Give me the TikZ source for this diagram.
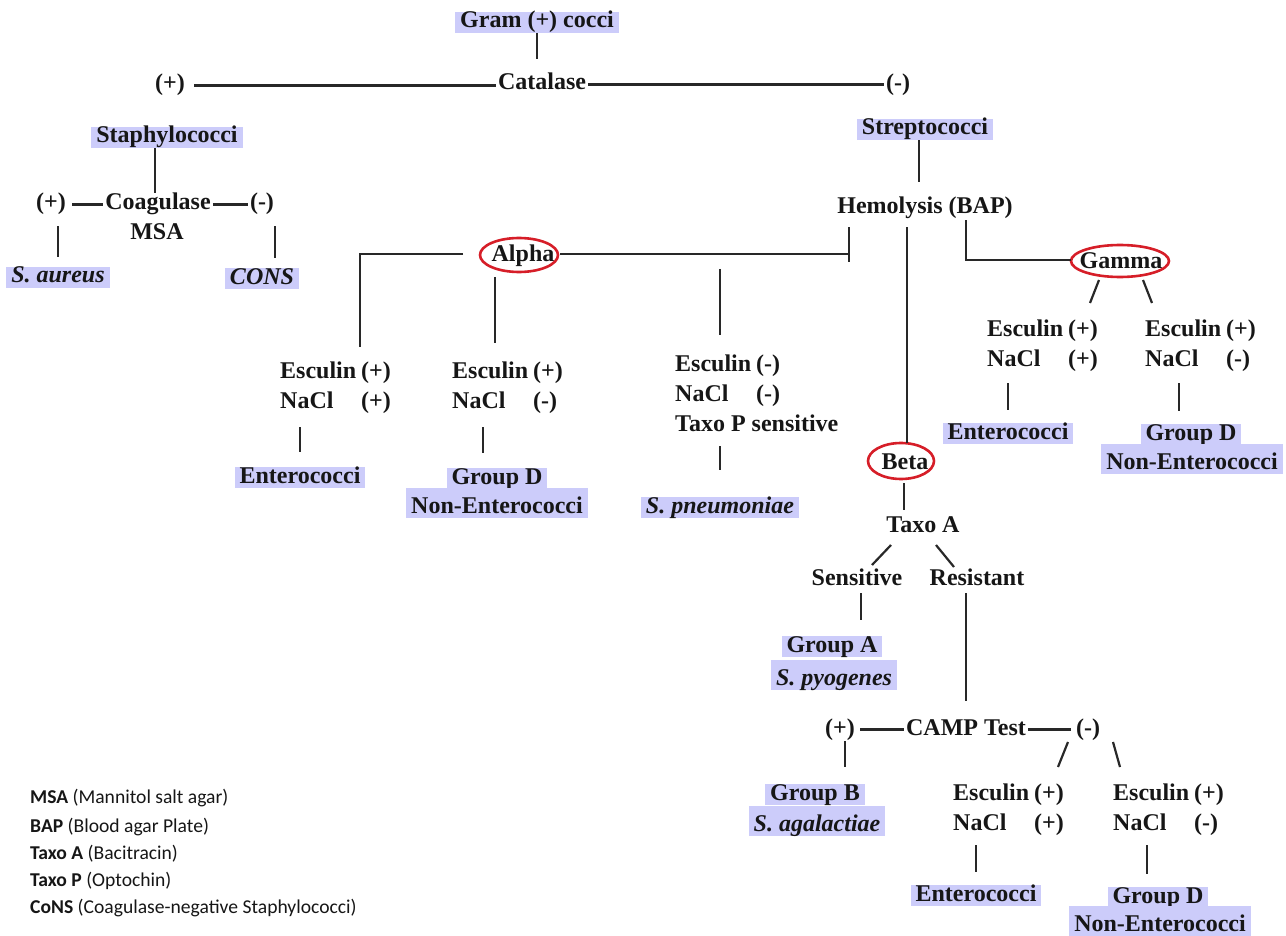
\documentclass[tikz,border=0pt]{standalone}
\usepackage{fontspec}
\setmainfont{Liberation Serif}
\newfontfamily\legendfont{Carlito}
\usetikzlibrary{calc}
\definecolor{hlcol}{RGB}{204,204,250}
\definecolor{ringred}{RGB}{214,30,40}
\definecolor{linecol}{RGB}{40,40,40}
\definecolor{inkcol}{RGB}{22,22,22}
% two-row test result table (Esculin / NaCl)
\newcommand{\escnacl}[2]{\begin{tabular}[t]{@{}l@{\hspace{5pt}}l@{}}Esculin & #1\\ NaCl & #2\end{tabular}}

\begin{document}
\begin{tikzpicture}[x=1pt,y=-1pt,
  txt/.style={font=\fontsize{24}{30}\selectfont\bfseries, text=inkcol,
    text height=16pt, text depth=5pt, inner xsep=2pt, inner ysep=1pt, anchor=base},
  hl/.style={txt, fill=hlcol, inner ysep=0pt, inner xsep=5pt},
  hltall/.style={hl, text height=25pt},
  ital/.style={font=\fontsize{24}{30}\selectfont\bfseries\itshape},
  block/.style={font=\fontsize{24}{30}\selectfont\bfseries, text=inkcol,
    inner sep=0pt, anchor=base west},
  link/.style={draw=linecol, line width=2.2pt},
  ring/.style={draw=ringred, line width=2.6pt},
  legend/.style={font=\legendfont\fontsize{19.6}{27}\selectfont, text=inkcol,
    anchor=base west, inner sep=0pt},
]
\useasboundingbox (0,0) rectangle (1286,936);

% ---------- top ----------
\node[hl] (gram) at (537,28) {Gram (+) cocci};
\node[txt] (catalase) at (542,90) {Catalase};
\node[txt] (plusA) at (170,91) {(+)};
\node[txt] (minusA) at (898,91) {(-)};

\draw[link, shorten >=14pt] (gram.south) -- (gram.south |- catalase.north);
\draw[link, shorten <=7pt] (plusA.east) -- (plusA.east -| catalase.west);
\draw[link] (catalase.east) -- (catalase.east -| minusA.west);

% ---------- staphylococci branch ----------
\node[hl] (staph) at (167,143) {Staphylococci};
\node[txt] (coag) at (158,210) {Coagulase};
\node[txt] (msa) at (157,240) {MSA};
\node[txt] (plusB) at (51,210) {(+)};
\node[txt] (minusB) at (262,210) {(-)};
\node[hl,ital] (aureus) at (58,283) {S. aureus};
\node[hl,ital] (cons) at (262,284) {CONS};

\draw[link] ([xshift=-12pt]staph.south) -- ([xshift=-12pt]staph.south |- coag.north);
\draw[link, shorten <=4pt] (plusB.east) -- (plusB.east -| coag.west);
\draw[link] (coag.east) -- (coag.east -| minusB.west);
\draw[link, shorten <=10pt, shorten >=10pt] (aureus.north |- plusB.south) -- (aureus.north);
\draw[link, shorten <=10pt, shorten >=10pt] ([xshift=13pt]minusB.south) -- ([xshift=13pt]minusB.south |- cons.north);

% ---------- streptococci branch ----------
\node[hl] (strep) at (925,135) {Streptococci};
\node[txt] (hemo) at (925,214) {Hemolysis (BAP)};
\draw[link, shorten >=15pt] ([xshift=-6pt]strep.south) -- ([xshift=-6pt]strep.south |- hemo.north);

% hemolysis types
\node[txt] (alpha) at (523,262) {Alpha};
\draw[ring] ($(alpha.base)+(-4,-7)$) ellipse [x radius=39pt, y radius=17pt];
\node[txt] (beta) at (905,469) {Beta};
\draw[ring] ($(beta.base)+(-4,-8)$) ellipse [x radius=33pt, y radius=18pt];
\node[txt] (gamma) at (1121,269) {Gamma};
\draw[ring] ($(gamma.base)+(-1,-8)$) ellipse [x radius=49pt, y radius=16pt];

\coordinate (alphaJoin) at ([xshift=14pt]hemo.south west |- alpha.base);
\draw[link, shorten <=7pt] ([xshift=14pt]hemo.south west) -- (alphaJoin);
\draw[link] ($(alpha.base)+(37,-8)$) -- ($(alphaJoin)+(0,-8)$);
\draw[link] ([xshift=-18pt,yshift=-7pt]hemo.south) -- ($(beta.base)+(2,-26)$);
\draw[link] ([xshift=-49pt]hemo.south east) |- ($(gamma.base)+(-50,-9)$);

% ---------- alpha ----------
\node[block] (esc1) at (280,378) {\escnacl{(+)}{(+)}};
\node[block] (esc2) at (452,378) {\escnacl{(+)}{(-)}};
\node[block] (esc3) at (675,371) {\begin{tabular}[t]{@{}l@{\hspace{5pt}}l@{}}Esculin & (-)\\ NaCl & (-)\\ \multicolumn{2}{@{}l@{}}{Taxo P sensitive}\end{tabular}};

\draw[link] ($(alpha.base)+(-60,-8)$) -| ($(esc1.north west)+(80,-10)$);
\draw[link] ($(esc2.north west)+(43,-80)$) -- ($(esc2.north west)+(43,-14)$);
\draw[link] ($(esc3.north west)+(45,-81)$) -- ($(esc3.north west)+(45,-15)$);

\node[hl] (entA) at (300,483) {Enterococci};
\node[hl] (grpDa) at (497,484) {Group D};
\node[hltall] (nonEa) at (497,513) {Non-Enterococci};
\node[hl,ital] (pneumo) at (720,513) {S. pneumoniae};

\draw[link, shorten <=10pt, shorten >=15pt] (entA.north |- esc1.south) -- (entA.north);
\draw[link, shorten <=10pt, shorten >=15pt] ([xshift=-14pt]grpDa.north |- esc2.south) -- ([xshift=-14pt]grpDa.north);
\draw[link, shorten <=6pt, shorten >=27pt] (pneumo.north |- esc3.south) -- (pneumo.north);

% ---------- gamma ----------
\node[block] (esc4) at (987,336) {\escnacl{(+)}{(+)}};
\node[block] (esc5) at (1145,336) {\escnacl{(+)}{(-)}};
\draw[link] ($(gamma.base)+(-22,11)$) -- ($(gamma.base)+(-31,34)$);
\draw[link] ($(gamma.base)+(22,11)$) -- ($(gamma.base)+(31,34)$);

\node[hl] (entB) at (1008,439) {Enterococci};
\node[hl] (grpDb) at (1191,440) {Group D};
\node[hltall] (nonEb) at (1192,469) {Non-Enterococci};
\draw[link, shorten <=8pt, shorten >=13pt] (entB.north |- esc4.south) -- (entB.north);
\draw[link, shorten <=8pt, shorten >=13pt] ([xshift=-12pt]grpDb.north |- esc5.south) -- ([xshift=-12pt]grpDb.north);

% ---------- beta ----------
\node[txt] (taxoA) at (923,532) {Taxo A};
\draw[link] ($(beta.base)+(-1,14)$) -- ($(beta.base)+(-1,41)$);
\draw[link] ($(taxoA.base)+(-32,13)$) -- ($(taxoA.base)+(-51,33)$);
\draw[link] ($(taxoA.base)+(13,13)$) -- ($(taxoA.base)+(31,35)$);

\node[txt] (sens) at (857,585) {Sensitive};
\node[txt] (resist) at (977,585) {Resistant};
\node[hl] (grpA) at (832,652) {Group A};
\node[hltall,ital] (pyo) at (834,685) {S. pyogenes};
\draw[link, shorten <=2pt, shorten >=16pt] ([xshift=4pt]sens.south) -- ([xshift=4pt]sens.south |- grpA.north);

% CAMP test
\node[txt] (camp) at (966,735) {CAMP Test};
\node[txt] (plusC) at (840,735) {(+)};
\node[txt] (minusC) at (1088,735) {(-)};
\draw[link, shorten <=2pt, shorten >=17pt] (camp.north |- resist.south) -- (camp.north);
\draw[link, shorten <=3pt] (plusC.east) -- (plusC.east -| camp.west);
\draw[link, shorten >=3pt] (camp.east) -- (camp.east -| minusC.west);

\node[hl] (grpB) at (815,800) {Group B};
\node[hltall,ital] (agal) at (817,831) {S. agalactiae};
\draw[link, shorten >=17pt] ([xshift=5pt]plusC.south) -- ([xshift=5pt]plusC.south |- grpB.north);

\node[block] (esc6) at (953,800) {\escnacl{(+)}{(+)}};
\node[block] (esc7) at (1113,800) {\escnacl{(+)}{(-)}};
\draw[link] ($(minusC.base)+(-20,7)$) -- ($(minusC.base)+(-30,32)$);
\draw[link] ($(minusC.base)+(25,7)$) -- ($(minusC.base)+(32,32)$);

\node[hl] (entC) at (976,901) {Enterococci};
\node[hl] (grpDc) at (1158,903) {Group D};
\node[hltall] (nonEc) at (1160,931) {Non-Enterococci};
\draw[link, shorten <=6pt, shorten >=13pt] (entC.north |- esc6.south) -- (entC.north);
\draw[link, shorten <=6pt, shorten >=13pt] ([xshift=-11pt]grpDc.north |- esc7.south) -- ([xshift=-11pt]grpDc.north);

% ---------- abbreviations ----------
\node[legend] (lg1) at (30,803) {\textbf{MSA} (Mannitol salt agar)};
\node[legend] (lg2) at (30,832) {\textbf{BAP} (Blood agar Plate)};
\node[legend] (lg3) at (30,859) {\textbf{Taxo A} (Bacitracin)};
\node[legend] (lg4) at (30,886) {\textbf{Taxo P} (Optochin)};
\node[legend] (lg5) at (30,913) {\textbf{CoNS} (Coagulase-negative Staphylococci)};
\end{tikzpicture}
\end{document}
